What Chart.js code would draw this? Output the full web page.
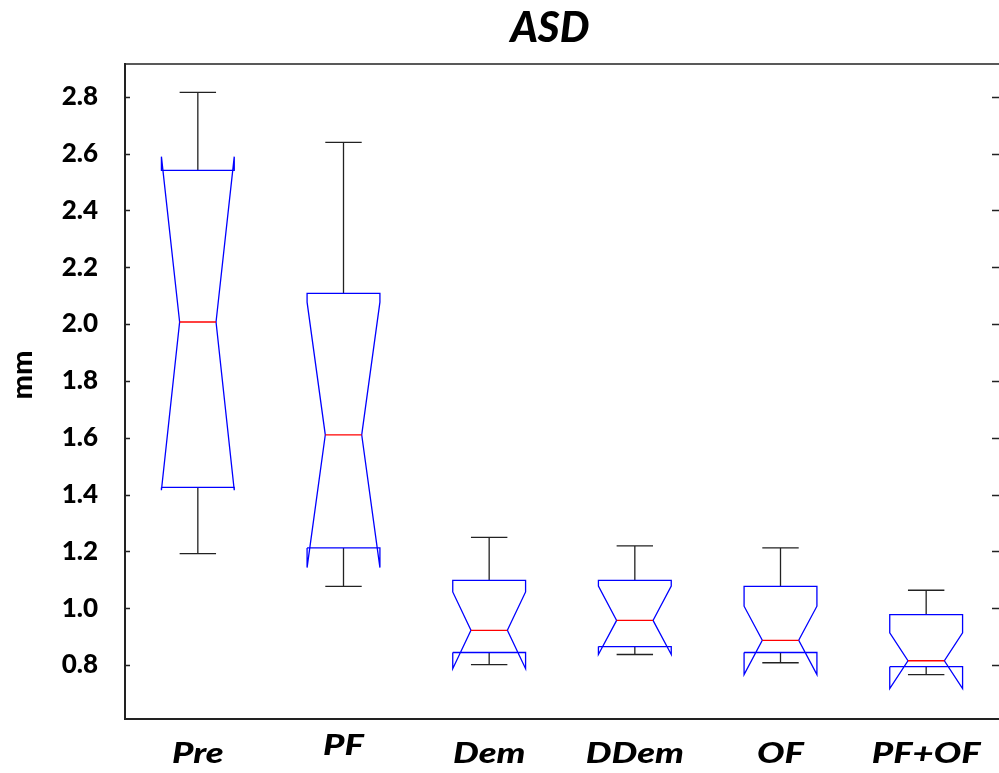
<!DOCTYPE html>
<html>
<head>
<meta charset="utf-8">
<title>ASD</title>
<script src="https://cdn.jsdelivr.net/npm/chart.js@4.4.1/dist/chart.umd.min.js"></script>
<style>
    html, body { margin: 0; padding: 0; background: #fff; overflow: hidden; }
    #wrap { width: 999px; height: 773px; position: relative; }
</style>
</head>
<body>
<div id="wrap"><canvas id="boxChart"></canvas></div>
<script>
// box statistics per group (mm)
var groups = ["Pre", "PF", "Dem", "DDem", "OF", "PF+OF"];
var whiskerHigh = [2.815, 2.639, 1.249, 1.219, 1.212, 1.063];
var q3 = [2.541, 2.108, 1.098, 1.098, 1.077, 0.977];
var notchHigh = [2.589, 2.077, 1.057, 1.078, 1.007, 0.913];
var medians = [2.007, 1.610, 0.922, 0.957, 0.887, 0.815];
var notchLow = [1.415, 1.143, 0.787, 0.837, 0.766, 0.717];
var q1 = [1.425, 1.212, 0.844, 0.865, 0.844, 0.794];
var whiskerLow = [1.192, 1.077, 0.801, 0.837, 0.808, 0.766];
var yTicks = [0.8, 1.0, 1.2, 1.4, 1.6, 1.8, 2.0, 2.2, 2.4, 2.6, 2.8];

// styling
var boxHalf = 0.25;
var notchHalf = 0.125;
var capHalf = 0.125;
var labelLift = [0, 8, 0, 0, 0, 0];
var FONT = "Lato";

function segment(points, color, order) {
    return {
        type: "scatter",
        data: points.map(function (p) { return { x: p[0], y: p[1] }; }),
        showLine: true,
        borderColor: color,
        borderWidth: 1.3,
        pointRadius: 0,
        fill: false,
        tension: 0,
        order: order
    };
}

var datasets = [];
for (var i = 0; i < groups.length; i++) {
    var c = i + 1;
    var l = c - boxHalf, r = c + boxHalf;

    // whiskers
    datasets.push(segment([[c, q3[i]], [c, whiskerHigh[i]]], "#222", 3));
    datasets.push(segment([[c - capHalf, whiskerHigh[i]], [c + capHalf, whiskerHigh[i]]], "#222", 3));
    datasets.push(segment([[c, q1[i]], [c, whiskerLow[i]]], "#222", 3));
    datasets.push(segment([[c - capHalf, whiskerLow[i]], [c + capHalf, whiskerLow[i]]], "#222", 3));

    // notched box outline
    datasets.push(segment([
        [l, q1[i]], [l, notchLow[i]], [c - notchHalf, medians[i]], [l, notchHigh[i]], [l, q3[i]],
        [r, q3[i]], [r, notchHigh[i]], [c + notchHalf, medians[i]], [r, notchLow[i]], [r, q1[i]],
        [l, q1[i]]
    ], "#0000ff", 2));

    // median
    datasets.push(segment([[c - notchHalf, medians[i]], [c + notchHalf, medians[i]]], "#ff0000", 1));
}

var framePlugin = {
    id: "frame",
    afterDraw: function (chart) {
        var ctx = chart.ctx;
        var a = chart.chartArea;
        var xs = chart.scales.x;
        var ys = chart.scales.y;

        ctx.save();
        ctx.strokeStyle = "#222";
        ctx.lineWidth = 1.5;
        ctx.beginPath();
        ctx.moveTo(a.left, a.top);
        ctx.lineTo(a.right, a.top);
        ctx.stroke();

        // inward ticks on both sides
        ctx.beginPath();
        ys.ticks.forEach(function (t) {
            var py = Math.round(ys.getPixelForValue(t.value)) + 0.5;
            ctx.moveTo(a.left, py);
            ctx.lineTo(a.left + 5, py);
            ctx.moveTo(a.right, py);
            ctx.lineTo(a.right - 7, py);
        });
        ctx.stroke();

        ctx.fillStyle = "#000";
        // title
        ctx.font = "italic 900 42px " + FONT;
        ctx.textAlign = "center";
        ctx.textBaseline = "alphabetic";
        ctx.fillText("ASD", 550, 42);

        // category labels
        ctx.font = "italic 900 28px " + FONT;
        groups.forEach(function (g, k) {
            var px = xs.getPixelForValue(k + 1);
            ctx.save();
            ctx.translate(px, 763 - labelLift[k]);
            ctx.scale(1.3, 1);
            ctx.fillText(g, 0, 0);
            ctx.restore();
        });

        // y axis title
        ctx.font = "900 29px " + FONT;
        ctx.save();
        ctx.translate(32, 375);
        ctx.rotate(-Math.PI / 2);
        ctx.fillText("mm", 0, 0);
        ctx.restore();

        ctx.restore();
    }
};

var chart = new Chart(document.getElementById("boxChart"), {
    type: "scatter",
    data: { datasets: datasets },
    options: {
        responsive: true,
        maintainAspectRatio: false,
        animation: false,
        layout: { padding: { top: 64, left: 0, right: 0, bottom: 0 } },
        plugins: {
            legend: { display: false },
            tooltip: { enabled: false },
            title: { display: false }
        },
        scales: {
            x: {
                type: "linear",
                min: 0.5,
                max: 6.5,
                grid: { display: false, drawTicks: false },
                border: { display: true, color: "#222", width: 2 },
                ticks: { display: false },
                afterFit: function (scale) { scale.height = 54; }
            },
            y: {
                type: "linear",
                min: 0.61,
                max: 2.915,
                grid: { display: false, drawTicks: false },
                border: { display: true, color: "#222", width: 2 },
                afterBuildTicks: function (scale) {
                    scale.ticks = yTicks.map(function (v) { return { value: v }; });
                },
                ticks: {
                    padding: 27,
                    color: "#000",
                    font: { family: FONT, size: 26, weight: "900" },
                    callback: function (v) { return Number(v).toFixed(1); }
                },
                afterFit: function (scale) { scale.width = 125; }
            }
        }
    },
    plugins: [framePlugin]
});
</script>
</body>
</html>
